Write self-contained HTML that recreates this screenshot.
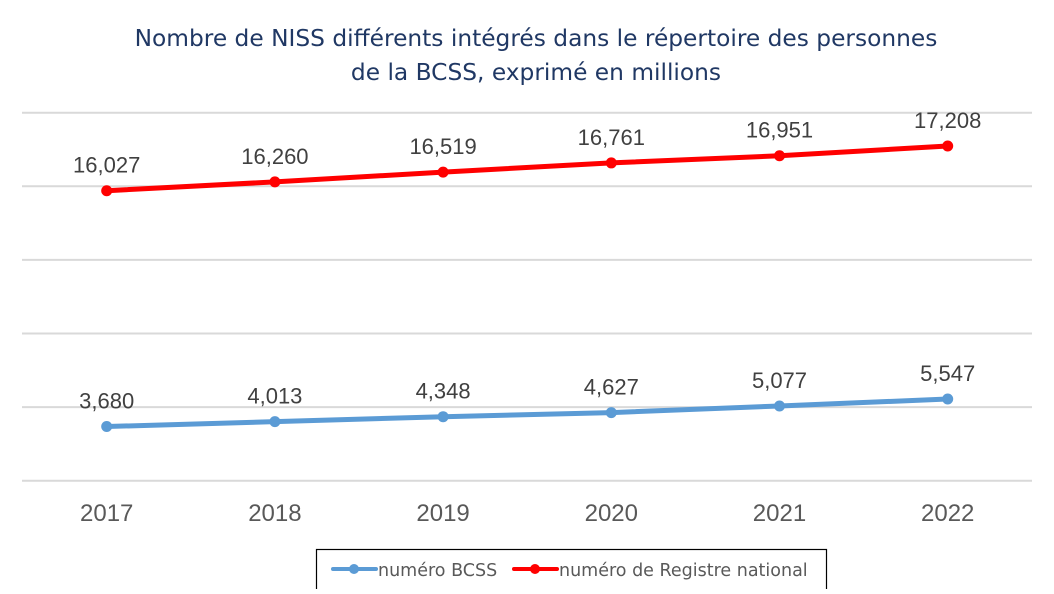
<!DOCTYPE html>
<html><head><meta charset="utf-8"><style>
body{margin:0;background:#fff;}
svg text{font-family:"Liberation Sans",Arial,sans-serif;}
</style></head><body>
<svg width="1054" height="589" viewBox="0 0 1054 589" xmlns="http://www.w3.org/2000/svg">
<g fill="#203864" text-anchor="middle">
<text x="536" y="46" style="font-family:'DejaVu Sans','Liberation Sans',sans-serif;font-size:23.3px">Nombre de NISS différents intégrés dans le répertoire des personnes</text>
<text x="536" y="80" style="font-family:'DejaVu Sans','Liberation Sans',sans-serif;font-size:23.3px">de la BCSS, exprimé en millions</text>
</g>
<g id="grid"></g>
<g id="series"></g>
<g id="xaxis"></g>
<g>
<rect x="316.5" y="549.5" width="510" height="45" fill="#fff" stroke="#000" stroke-width="1.2"/>
<line x1="333" y1="569" x2="376" y2="569" stroke="#5b9bd5" stroke-width="4" stroke-linecap="round"/>
<circle cx="354" cy="569" r="5" fill="#5b9bd5"/>
<text x="378" y="576" fill="#595959" style="font-family:'DejaVu Sans','Liberation Sans',sans-serif;font-size:17.5px">numéro BCSS</text>
<line x1="514" y1="569" x2="557" y2="569" stroke="#ff0000" stroke-width="4" stroke-linecap="round"/>
<circle cx="535" cy="569" r="5" fill="#ff0000"/>
<text x="559" y="576" fill="#595959" style="font-family:'DejaVu Sans','Liberation Sans',sans-serif;font-size:17.5px">numéro de Registre national</text>
</g>
</svg>
<script>
const categories=["2017","2018","2019","2020","2021","2022"];
const bcss=[3.680,4.013,4.348,4.627,5.077,5.547];
const registre=[16.027,16.260,16.519,16.761,16.951,17.208];
const bcssLabels=["3,680","4,013","4,348","4,627","5,077","5,547"];
const registreLabels=["16,027","16,260","16,519","16,761","16,951","17,208"];
const gridTicks=[0,5,10,15,20,25];
const NS="http://www.w3.org/2000/svg";
const x0=106.7,dx=168.2;
function xs(i){return x0+i*dx;}
function yBlue(v){return 480.7-(v/25)*368;}
function yRed(v){return 480.7-((v-8.366)/(18.088-8.366))*368;}
function mk(tag,attrs,parent){const e=document.createElementNS(NS,tag);for(const k in attrs)e.setAttribute(k,attrs[k]);parent.appendChild(e);return e;}
const grid=document.getElementById('grid');
gridTicks.forEach(t=>{const l=mk('line',{x1:22,x2:1032,y1:yBlue(t),y2:yBlue(t),stroke:'#d9d9d9','stroke-width':2},grid);

});
const xa=document.getElementById('xaxis');
categories.forEach((c,i)=>{const t=mk('text',{x:xs(i),y:521,'text-anchor':'middle','font-size':24,fill:'#595959'},xa);t.textContent=c;

});
const sg=document.getElementById('series');
function drawSeries(vals,labels,yf,color,name){
const pts=vals.map((v,i)=>xs(i)+','+yf(v)).join(' ');
const pl=mk('polyline',{points:pts,fill:'none',stroke:color,'stroke-width':5,'stroke-linejoin':'round','stroke-linecap':'round'},sg);


vals.forEach((v,i)=>{
const c=mk('circle',{cx:xs(i),cy:yf(v),r:5.5,fill:color},sg);


const t=mk('text',{x:xs(i),y:yf(v)-18,'text-anchor':'middle','font-size':22,fill:'#404040'},sg);t.textContent=labels[i];


});}
drawSeries(bcss,bcssLabels,yBlue,'#5b9bd5','bcss');
drawSeries(registre,registreLabels,yRed,'#ff0000','registre');
</script>
</body></html>
